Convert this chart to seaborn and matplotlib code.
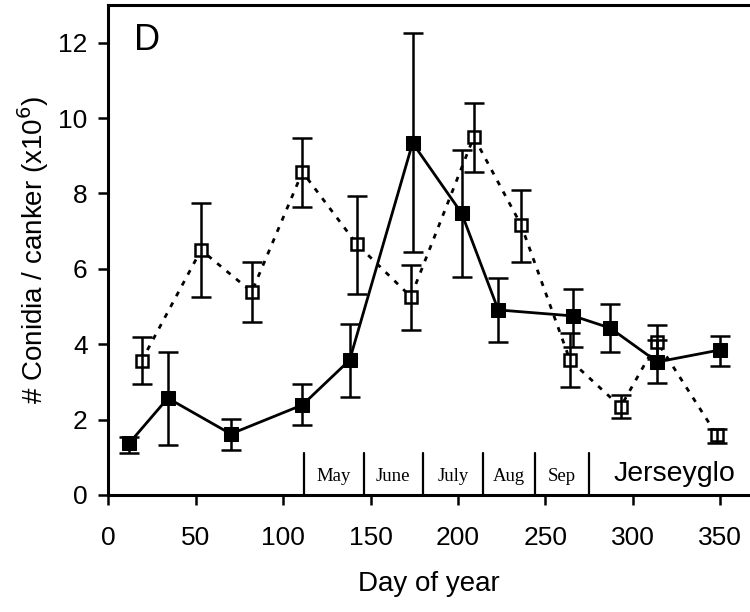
import numpy as np
import pandas as pd
import matplotlib
matplotlib.use("Agg")
import matplotlib.pyplot as plt
import seaborn as sns

# Solid series (filled squares)
solid_day = [12, 34, 70, 111, 138, 174, 202, 223, 266, 287, 314, 350]
solid_mean = [1.38, 2.57, 1.62, 2.39, 3.58, 9.34, 7.48, 4.91, 4.75, 4.43, 3.53, 3.85]
solid_hi = [1.54, 3.80, 2.02, 2.95, 4.54, 12.26, 9.16, 5.76, 5.47, 5.07, 4.10, 4.22]
solid_lo = [1.11, 1.33, 1.19, 1.86, 2.60, 6.45, 5.79, 4.06, 3.92, 3.80, 2.97, 3.42]

# Open series (open squares, dotted)
open_day = [19, 53, 82, 111, 142, 173, 209, 236, 264, 293, 314, 348]
open_mean = [3.56, 6.50, 5.39, 8.57, 6.66, 5.26, 9.50, 7.17, 3.58, 2.34, 4.06, 1.59]
open_hi = [4.19, 7.75, 6.19, 9.48, 7.94, 6.11, 10.41, 8.10, 4.30, 2.65, 4.51, 1.75]
open_lo = [2.95, 5.26, 4.59, 7.65, 5.34, 4.38, 8.57, 6.19, 2.87, 2.04, 3.60, 1.38]

# Month boundaries and labels
month_edges = [112, 146, 180, 214, 244, 275]
month_names = ["May", "June", "July", "Aug", "Sep"]

sns.set_style("ticks")
plt.rcParams['font.family'] = ['Liberation Sans', 'DejaVu Sans']
plt.rcParams.update({'text.color': 'black', 'axes.labelcolor': 'black',
                     'xtick.color': 'black', 'ytick.color': 'black'})

fig = plt.figure(figsize=(7.5, 6.12), dpi=100)
ax = fig.add_axes([108.4 / 750, 117 / 612, (750 - 108.4) / 750, 490 / 612])

solid = pd.DataFrame({'day': solid_day, 'mean': solid_mean})
opn = pd.DataFrame({'day': open_day, 'mean': open_mean})

sns.lineplot(data=opn, x='day', y='mean', ax=ax, color='black', lw=2.0,
             linestyle=(0, (1.8, 2.6)), marker='s', markersize=8.5,
             markerfacecolor='white', markeredgecolor='black', markeredgewidth=1.8,
             zorder=3)
sns.lineplot(data=solid, x='day', y='mean', ax=ax, color='black', lw=2.0,
             marker='s', markersize=9.5, markerfacecolor='black',
             markeredgecolor='black', zorder=4)

o_m = np.array(open_mean)
s_m = np.array(solid_mean)
ax.errorbar(open_day, open_mean, yerr=[o_m - np.array(open_lo), np.array(open_hi) - o_m],
            fmt='none', ecolor='black', elinewidth=1.8, capsize=7, capthick=1.8, zorder=5)
ax.errorbar(solid_day, solid_mean, yerr=[s_m - np.array(solid_lo), np.array(solid_hi) - s_m],
            fmt='none', ecolor='black', elinewidth=1.8, capsize=7, capthick=1.8, zorder=5)

# month separators and labels
for e in month_edges:
    ax.plot([e, e], [0, 1.12], color='black', lw=1.6, zorder=2)
for i, name in enumerate(month_names):
    mid = (month_edges[i] + month_edges[i + 1]) / 2
    ax.text(mid, 0.5, name, ha='center', va='center', fontsize=13.5,
            family=['Liberation Serif', 'DejaVu Serif'])
ax.text(324, 0.56, "Jerseyglo", ha='center', va='center', fontsize=20.5)
ax.text(0.04, 0.963, "D", transform=ax.transAxes, ha='left', va='top', fontsize=26)

ax.set_xlim(0, 367)
ax.set_ylim(0, 13.0)
ax.set_xticks(range(0, 351, 50))
ax.set_yticks(range(0, 13, 2))
ax.tick_params(axis='both', labelsize=19, width=1.8, length=7, direction='out', color='black')
ax.tick_params(axis='x', pad=15)
ax.tick_params(axis='y', pad=8)

ax.set_xlabel("Day of year", fontsize=20)
ax.set_ylabel("# Conidia / canker (x10$^6$)", fontsize=20)
ax.xaxis.set_label_coords(0.5, -0.155)
ax.yaxis.set_label_coords(-0.089, 0.5)

for s in ['left', 'bottom', 'top']:
    ax.spines[s].set_linewidth(2.2)
    ax.spines[s].set_color('black')
ax.spines['right'].set_visible(False)

fig.savefig("out.png", dpi=100)
